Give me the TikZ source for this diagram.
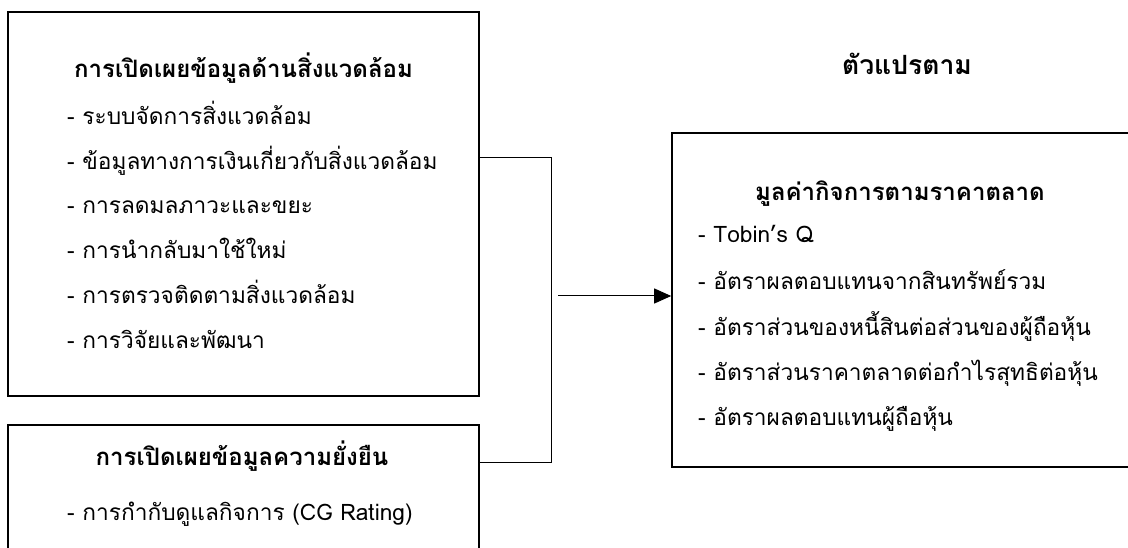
\documentclass[tikz,border=0pt]{standalone}
\usepackage{fontspec}
\newfontfamily\thaifont[Script=Thai]{Loma}
\usetikzlibrary{arrows.meta}
\tikzset{
  boxshape/.style={draw=black, line width=1.6pt, rectangle, inner sep=0pt},
  titletext/.style={font=\thaifont\bfseries\fontsize{24}{28}\selectfont, inner sep=0pt, anchor=mid},
  headtext/.style={font=\thaifont\bfseries\fontsize{26.5}{30}\selectfont, inner sep=0pt, anchor=mid},
  itemtext/.style={font=\thaifont\fontsize{22.7}{27}\selectfont, inner sep=0pt, anchor=mid west},
  conn/.style={draw=black, line width=1pt},
}
\begin{document}
\begin{tikzpicture}[x=1pt,y=-1pt]
\useasboundingbox (0,0) rectangle (1128,548);
\begin{scope}
\clip (0,0) rectangle (1128,548);
% boxes
\node[boxshape, minimum width=471pt, minimum height=384pt] (box1) at (243.5,204) {};
\node[boxshape, minimum width=471pt, minimum height=200pt] (box2) at (243.5,525) {};
\node[boxshape, minimum width=464pt, minimum height=334pt] (box3) at (904,300) {};
% box 1 texts
\node[titletext] (t1) at (243.5,75) {การเปิดเผยข้อมูลด้านสิ่งแวดล้อม};
\node[itemtext] (i11) at (67,122) {- ระบบจัดการสิ่งแวดล้อม};
\node[itemtext] (i12) at (67,167) {- ข้อมูลทางการเงินเกี่ยวกับสิ่งแวดล้อม};
\node[itemtext] (i13) at (67,211) {- การลดมลภาวะและขยะ};
\node[itemtext] (i14) at (67,256) {- การนำกลับมาใช้ใหม่};
\node[itemtext] (i15) at (67,301) {- การตรวจติดตามสิ่งแวดล้อม};
\node[itemtext] (i16) at (67,346) {- การวิจัยและพัฒนา};
% box 2 texts
\node[titletext] (t2) at (242,463) {การเปิดเผยข้อมูลความยั่งยืน};
\node[itemtext] (i21) at (67,518) {- การกำกับดูแลกิจการ (CG Rating)};
% header
\node[headtext] (hdr) at (907,72) {ตัวแปรตาม};
% box 3 texts
\node[titletext] (t3) at (900,198) {มูลค่ากิจการตามราคาตลาด};
\node[itemtext] (i31) at (698,240) {- Tobin’s Q};
\node[itemtext] (i32) at (698,287) {- อัตราผลตอบแทนจากสินทรัพย์รวม};
\node[itemtext] (i33) at (698,333) {- อัตราส่วนของหนี้สินต่อส่วนของผู้ถือหุ้น};
\node[itemtext] (i34) at (698,378) {- อัตราส่วนราคาตลาดต่อกำไรสุทธิต่อหุ้น};
\node[itemtext] (i35) at (698,423) {- อัตราผลตอบแทนผู้ถือหุ้น};
% connectors
\coordinate (c1) at (551,158);
\coordinate (c2) at (551,462);
\coordinate (a0) at (558,296);
\draw[conn] (box1.east |- c1) -- (c1) -- (c2) -- (box2.east |- c2);
\draw[conn, -{Triangle[length=17pt,width=15pt]}] (a0) -- (box3.west |- a0);
\end{scope}
\end{tikzpicture}
\end{document}
